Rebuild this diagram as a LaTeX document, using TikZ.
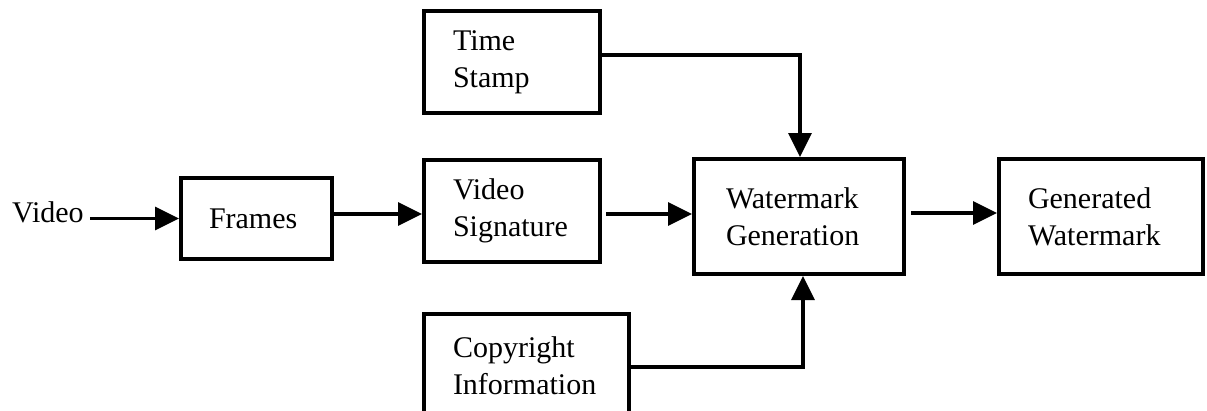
\documentclass[tikz,border=0pt]{standalone}
\usepackage{fontspec}
\setmainfont{Liberation Serif}
\usetikzlibrary{arrows.meta}
\begin{document}
\begin{tikzpicture}[x=1bp,y=-1bp,
  txt/.style={font=\fontsize{30bp}{37bp}\selectfont},
  block/.style={txt, draw, line width=4bp, inner xsep=29bp, inner ysep=0bp, align=left},
  flow/.style={line width=3.4bp, -{Triangle[length=24bp,width=23bp]}}]
\useasboundingbox (0,0) rectangle (1207,410);
\clip (0,0) rectangle (1207,410);

% processing blocks
\node[block, minimum width=151bp, minimum height=81bp, text width=95bp, inner xsep=28bp] (frames) at (256.5,218.5) {Frames};
\node[block, minimum width=176bp, minimum height=102bp, text width=118bp] (ts) at (512,62) {Time\\Stamp};
\node[block, minimum width=176bp, minimum height=102bp, text width=118bp] (vs) at (512,211) {Video\\Signature};
\node[block, minimum width=205bp, minimum height=104bp, text width=147bp] (ci) at (526.5,366) {Copyright\\Information};
\node[block, minimum width=210bp, minimum height=115bp, text width=146bp, inner xsep=32bp] (wg) at (799,216.5) {Watermark\\Generation};
\node[block, minimum width=204bp, minimum height=115bp, text width=146bp] (gw) at (1101,216.5) {Generated\\Watermark};

% input label
\node[txt, inner sep=0pt, anchor=base west] (vid) at (12,222) {Video};

% connectors
\draw[flow] ([xshift=6bp]vid.east |- frames.west) -- (frames.west);
\coordinate (fo) at ([yshift=4.5bp]frames.east);
\draw[flow] (fo) -- (fo -| vs.west);
\coordinate (vo) at ([xshift=4bp,yshift=-3bp]vs.east);
\draw[flow] (vo) -- (vo -| wg.west);
\coordinate (wo) at ([xshift=5bp,yshift=3.5bp]wg.east);
\draw[flow] (wo) -- (wo -| gw.west);
\draw[flow] ([yshift=7bp]ts.east) -| ([xshift=1bp]wg.north);
\draw[flow] ([yshift=-1bp]ci.east) -| ([xshift=4bp]wg.south);
\end{tikzpicture}
\end{document}
